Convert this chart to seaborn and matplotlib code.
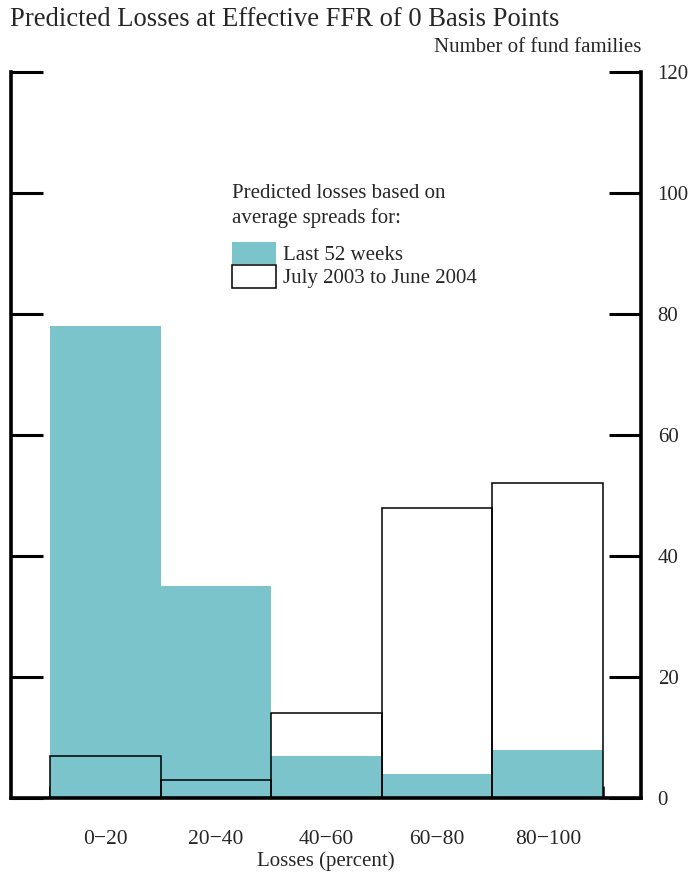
import matplotlib
matplotlib.use("Agg")
import matplotlib.pyplot as plt
import seaborn as sns
import pandas as pd
import numpy as np
from matplotlib.patches import Patch

categories = ["0\u221220", "20\u221240", "40\u221260", "60\u221280", "80\u2212100"]
last_52_weeks = [78, 35, 7, 4, 8]
july03_june04 = [7, 3, 14, 48, 52]
yticks = [0, 20, 40, 60, 80, 100, 120]

TEAL = "#7BC4CC"

sns.set_theme(style="white")
plt.rcParams["font.family"] = ["Liberation Serif", "DejaVu Serif"]

df = pd.DataFrame({"cat": categories, "a": last_52_weeks, "b": july03_june04})

fig = plt.figure(figsize=(6.93, 8.74), dpi=100)
ax = fig.add_axes([11/693, 1-798/874, 630/693, 726/874])

sns.barplot(data=df, x="cat", y="a", color=TEAL, width=1.0, linewidth=0,
            saturation=1, ax=ax, order=categories)
sns.barplot(data=df, x="cat", y="b", fill=False, width=1.0, linewidth=1.1,
            edgecolor="black", ax=ax, order=categories)

ax.set_xlim(-0.853, 4.843)
ax.set_ylim(0, 120)
ax.set_yticks(yticks)
ax.set_yticklabels([str(v) for v in yticks])
ax.set_xticks(range(len(categories)))
ax.set_xticklabels(categories, fontsize=15.5)
ax.set_xticks(np.arange(len(categories) + 1) - 0.5, minor=True)
ax.tick_params(axis="x", which="major", length=0, pad=23)
ax.tick_params(axis="x", which="minor", direction="in", length=9, width=1.8,
               color="black", bottom=True)
ax.tick_params(axis="y", which="major", left=True, right=True, labelleft=False,
               labelright=True, direction="in", length=23, width=2.2,
               color="black", labelsize=15, pad=12)
ax.set_xlabel("Losses (percent)", fontsize=15, labelpad=2)
ax.set_ylabel("")

for s in ["left", "right", "bottom"]:
    ax.spines[s].set_visible(True)
    ax.spines[s].set_linewidth(2.6)
    ax.spines[s].set_color("black")
ax.spines["top"].set_visible(False)

fig.text(10/693, 1-20/874, "Predicted Losses at Effective FFR of 0 Basis Points",
         fontsize=19.2, ha="left", va="center")
fig.text(641/693, 1-48/874, "Number of fund families", fontsize=15,
         ha="right", va="center")

fig.text(232/693, 1-193/874, "Predicted losses based on", fontsize=15,
         ha="left", va="center")
fig.text(232/693, 1-218/874, "average spreads for:", fontsize=15,
         ha="left", va="center")

handles = [Patch(facecolor=TEAL, edgecolor="none"),
           Patch(facecolor="white", edgecolor="black", linewidth=1.1)]
leg = ax.legend(handles, ["Last 52 weeks", "July 2003 to June 2004"],
                loc="upper left", bbox_to_anchor=(232/693, 1-242/874),
                bbox_transform=fig.transFigure, frameon=False, fontsize=15,
                borderpad=0, borderaxespad=0, labelspacing=0.0,
                handlelength=2.1, handleheight=1.28, handletextpad=0.33)

fig.savefig("out.png", dpi=100)
